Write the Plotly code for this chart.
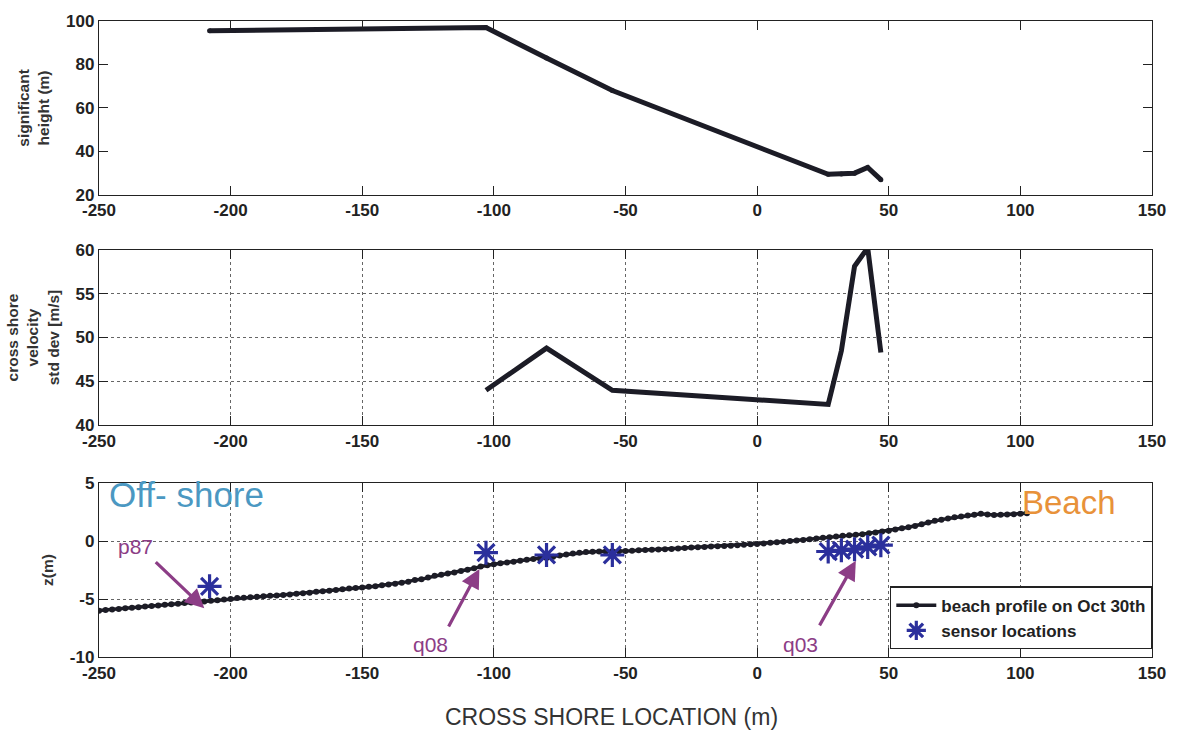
import plotly.graph_objects as go

# ---------------- data ----------------
sensor_x = [-208, -103, -80, -55, 27, 32, 37, 42, 47]
sensor_z = [-3.9, -1.0, -1.2, -1.2, -0.9, -0.8, -0.7, -0.5, -0.35]

hs_x = [-208, -103, -80, -55, 27, 32, 37, 42, 47]
hs_y = [95.5, 97.0, 83.0, 68.0, 29.5, 29.6, 30.0, 32.6, 27.0]

vel_x = [-103, -80, -55, 27, 32, 37, 42, 47]
vel_y = [44.0, 48.8, 44.0, 42.4, 48.5, 58.1, 60.2, 48.3]

prof_x = [-250, -247.5, -245, -242.5, -240, -237.5, -235, -232.5, -230, -227.5,
          -225, -222.5, -220, -217.5, -215, -212.5, -210, -207.5, -205, -202.5,
          -200, -197.5, -195, -192.5, -190, -187.5, -185, -182.5, -180, -177.5,
          -175, -172.5, -170, -167.5, -165, -162.5, -160, -157.5, -155, -152.5,
          -150, -147.5, -145, -142.5, -140, -137.5, -135, -132.5, -130, -127.5,
          -125, -122.5, -120, -117.5, -115, -112.5, -110, -107.5, -105, -102.5,
          -100, -97.5, -95, -92.5, -90, -87.5, -85, -82.5, -80, -77.5,
          -75, -72.5, -70, -67.5, -65, -62.5, -60, -57.5, -55, -52.5,
          -50, -47.5, -45, -42.5, -40, -37.5, -35, -32.5, -30, -27.5,
          -25, -22.5, -20, -17.5, -15, -12.5, -10, -7.5, -5, -2.5,
          0, 2.5, 5, 7.5, 10, 12.5, 15, 17.5, 20, 22.5,
          25, 27.5, 30, 32.5, 35, 37.5, 40, 42.5, 45, 47.5,
          50, 52.5, 55, 57.5, 60, 62.5, 65, 67.5, 70, 72.5,
          75, 77.5, 80, 82.5, 85, 87.5, 90, 92.5, 95, 97.5,
          100, 102.5]
prof_z = [-6.00, -5.95, -5.90, -5.85, -5.80, -5.75, -5.70, -5.65, -5.60, -5.55,
          -5.50, -5.45, -5.40, -5.35, -5.30, -5.28, -5.22, -5.15, -5.10, -5.05,
          -5.00, -4.92, -4.88, -4.85, -4.80, -4.75, -4.72, -4.70, -4.65, -4.60,
          -4.55, -4.50, -4.45, -4.38, -4.32, -4.28, -4.22, -4.15, -4.10, -4.05,
          -4.00, -3.95, -3.90, -3.82, -3.75, -3.68, -3.60, -3.50, -3.35, -3.30,
          -3.15, -3.00, -2.90, -2.80, -2.70, -2.58, -2.48, -2.35, -2.20, -2.08,
          -2.00, -1.92, -1.85, -1.78, -1.70, -1.62, -1.55, -1.50, -1.45, -1.35,
          -1.25, -1.15, -1.08, -1.00, -0.95, -0.92, -0.90, -0.90, -0.88, -0.87,
          -0.85, -0.83, -0.80, -0.78, -0.75, -0.72, -0.70, -0.68, -0.65, -0.60,
          -0.56, -0.53, -0.50, -0.46, -0.44, -0.42, -0.40, -0.35, -0.32, -0.28,
          -0.25, -0.20, -0.15, -0.10, -0.05, 0.00, 0.05, 0.10, 0.15, 0.22,
          0.28, 0.33, 0.40, 0.45, 0.50, 0.55, 0.60, 0.68, 0.75, 0.82,
          0.90, 1.00, 1.10, 1.20, 1.30, 1.45, 1.60, 1.75, 1.85, 1.95,
          2.05, 2.12, 2.20, 2.28, 2.35, 2.30, 2.25, 2.28, 2.30, 2.32,
          2.35, 2.40]

x_ticks = [-250, -200, -150, -100, -50, 0, 50, 100, 150]
hs_ticks = [20, 40, 60, 80, 100]
vel_ticks = [40, 45, 50, 55, 60]
z_ticks = [-10, -5, 0, 5]

# ---------------- styles ----------------
LINE = "#1c1c26"
NAVY = "#2b2f9c"
PURPLE = "#8c3d86"
TICKFONT = dict(family="Liberation Sans Narrow, Arial Narrow, Liberation Sans, Arial",
                size=17, color="#222222", weight="bold")
TITLEFONT = dict(family="Liberation Sans, Arial", size=15.5, color="#333333", weight="bold")

fig = go.Figure()

fig.add_trace(go.Scatter(x=hs_x, y=hs_y, mode="lines+markers", xaxis="x", yaxis="y",
                         line=dict(color=LINE, width=5), marker=dict(size=5, color=LINE),
                         showlegend=False, cliponaxis=False))
fig.add_trace(go.Scatter(x=vel_x, y=vel_y, mode="lines", xaxis="x2", yaxis="y2",
                         line=dict(color=LINE, width=5),
                         showlegend=False, cliponaxis=False))
fig.add_trace(go.Scatter(x=prof_x, y=prof_z, mode="lines+markers", xaxis="x3", yaxis="y3",
                         line=dict(color=LINE, width=3.5), marker=dict(size=6, color=LINE),
                         name="beach profile on Oct 30th", showlegend=True))
fig.add_trace(go.Scatter(x=sensor_x, y=sensor_z, mode="markers", xaxis="x3", yaxis="y3",
                         marker=dict(symbol="asterisk-open", size=20, color=NAVY,
                                     line=dict(color=NAVY, width=3.2)),
                         name="sensor locations", showlegend=True))

def xax(anchor, grid):
    return dict(range=[-250, 150], tickvals=x_ticks, ticktext=[str(v) for v in x_ticks],
                anchor=anchor, domain=[0, 1], showline=True, linecolor="#222", linewidth=1.3,
                mirror="allticks", ticks="inside", ticklen=9, tickcolor="#222", tickwidth=1,
                showgrid=grid, gridcolor="#666", griddash="dot", gridwidth=1,
                zeroline=False, tickfont=TICKFONT, fixedrange=True)

def yax(anchor, dom, rng, tv, title, grid):
    return dict(range=rng, tickvals=tv, ticktext=[str(v) for v in tv],
                anchor=anchor, domain=dom, showline=True, linecolor="#222", linewidth=1.3,
                mirror="allticks", ticks="inside", ticklen=9, tickcolor="#222", tickwidth=1,
                showgrid=grid, gridcolor="#666", griddash="dot", gridwidth=1,
                zeroline=False, tickfont=TICKFONT, fixedrange=True,
                title=dict(text=title, font=TITLEFONT, standoff=12))

fig.update_layout(
    width=1178, height=740,
    margin=dict(l=98, r=17, t=16, b=83),
    paper_bgcolor="white", plot_bgcolor="white",
    xaxis=xax("y", False),
    yaxis=yax("x", [0.7266, 1.0], [20, 100], hs_ticks, "significant<br>height (m)", False),
    xaxis2=xax("y2", True),
    yaxis2=yax("x2", [0.364, 0.6406], [40, 60], vel_ticks,
               "cross shore<br>velocity<br>std dev [m/s]", True),
    xaxis3=xax("y3", True),
    yaxis3=yax("x3", [0.0, 0.2734], [-10, 5], z_ticks, "z(m)", True),
    legend=dict(x=1.0, xanchor="right", y=0.012, yanchor="bottom",
                bgcolor="white", bordercolor="#222", borderwidth=1.3,
                font=dict(family="Liberation Sans Narrow, Arial Narrow, Liberation Sans, Arial",
                          size=17, color="#222", weight="bold"),
                tracegroupgap=0, itemwidth=40),
    showlegend=True,
)

ann = []
ann.append(dict(text="CROSS SHORE LOCATION (m)", xref="paper", yref="paper",
                x=0.487, y=-0.094, xanchor="center", yanchor="middle", showarrow=False,
                font=dict(family="Liberation Sans, Arial", size=23, color="#333")))
ann.append(dict(text="Off- shore", xref="x3", yref="y3", x=-247, y=4.0, xanchor="left",
                yanchor="middle", showarrow=False,
                font=dict(family="Liberation Sans Narrow, Arial Narrow, Liberation Sans",
                          size=35, color="#4b98c2")))
ann.append(dict(text="Beach", xref="x3", yref="y3", x=100, y=3.3, xanchor="left",
                yanchor="middle", showarrow=False,
                font=dict(family="Liberation Sans Narrow, Arial Narrow, Liberation Sans",
                          size=33, color="#e8923a")))
arrow_font = dict(family="Liberation Sans Narrow, Arial Narrow, Liberation Sans", size=21,
                  color=PURPLE)
for label, hx, hy, tx, ty, lx, ly in [
    ("p87", -210, -5.8, -229, -1.7, -236, -0.5),
    ("q08", -105.5, -2.4, -117.5, -7.5, -124, -8.9),
    ("q03", 37.5, -1.7, 23.4, -7.4, 16.6, -8.9),
]:
    ann.append(dict(xref="x3", yref="y3", x=hx, y=hy, ax=tx, ay=ty,
                    axref="x3", ayref="y3", text="", showarrow=True,
                    arrowhead=2, arrowsize=1.2, arrowwidth=3.2, arrowcolor=PURPLE))
    ann.append(dict(xref="x3", yref="y3", x=lx, y=ly, text=label, showarrow=False,
                    xanchor="center", yanchor="middle", font=arrow_font))
fig.update_layout(annotations=ann)

fig.write_html("out.html")
